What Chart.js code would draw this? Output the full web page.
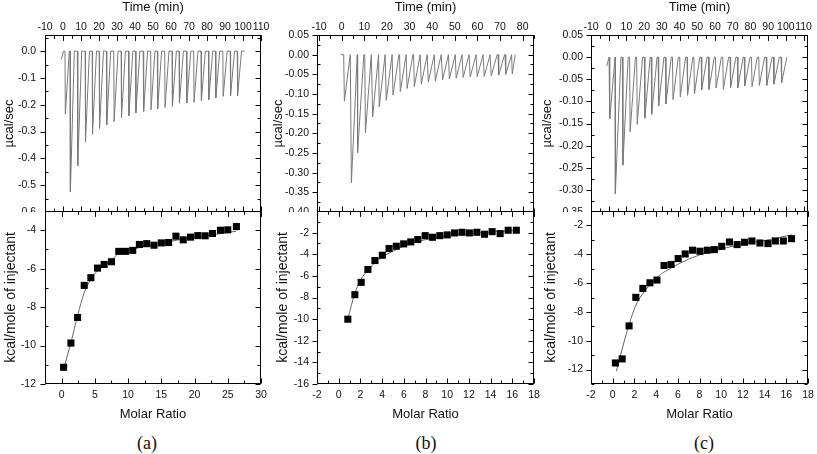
<!DOCTYPE html>
<html>
<head>
<meta charset="utf-8">
<script src="https://cdn.jsdelivr.net/npm/chart.js@4"></script>
<style>
  body { margin: 0; background: #fff; width: 817px; height: 454px; position: relative; overflow: hidden; }
  canvas { position: absolute; }
  .cap { position: absolute; font-family: "Liberation Serif", serif; font-size: 18px; color: #111; transform: translate(-50%, -50%); }
</style>
</head>
<body>
<div class="cap" style="left:147px; top:443px">(a)</div>
<div class="cap" style="left:426px; top:443px">(b)</div>
<div class="cap" style="left:704px; top:443px">(c)</div>
<script>
// ---------- (a) ----------
const timeTicksA = [-10, 0, 10, 20, 30, 40, 50, 60, 70, 80, 90, 100, 110];
const powerTicksA = [-0.6, -0.5, -0.4, -0.3, -0.2, -0.1, 0.0];
const startTimeA = [-0.9, 0.3];
const startPowerA = [-0.03, 0];
const injTimeA = [1.3, 4.1, 8.2, 12.5, 16.4, 20.3, 24.3, 28.4, 32.5, 36.6, 40.5, 44.8, 48.9,
                  52.6, 56.7, 60.8, 64.7, 68.8, 72.8, 76.9, 81.0, 84.9, 89.0, 93.1, 97.0];
const peakA = [-0.234, -0.525, -0.428, -0.338, -0.310, -0.288, -0.275, -0.263, -0.248, -0.241, -0.231, -0.225, -0.219,
               -0.215, -0.210, -0.206, -0.194, -0.194, -0.191, -0.184, -0.181, -0.175, -0.169, -0.166, -0.166];
const endTimeA = 101;
const ratioTicksA = [0, 5, 10, 15, 20, 25, 30];
const heatTicksA = [-12, -10, -8, -6, -4];
const ratioA = [0.3, 1.4, 2.4, 3.4, 4.4, 5.4, 6.4, 7.5, 8.6, 9.6, 10.7, 11.7, 12.8,
                13.9, 15.0, 16.1, 17.2, 18.3, 19.4, 20.5, 21.6, 22.7, 23.9, 25.0, 26.3];
const heatA = [-11.13, -9.87, -8.54, -6.87, -6.47, -5.97, -5.78, -5.64, -5.10, -5.10, -5.05, -4.74, -4.70,
               -4.78, -4.66, -4.64, -4.31, -4.50, -4.36, -4.28, -4.29, -4.17, -4.00, -3.98, -3.81];
const fitRatioA = [0.4, 1.4, 2.4, 3.4, 4.4, 5.4, 6.4, 7.5, 8.6, 10.6, 15, 20, 26.3];
const fitHeatA = [-11.1, -9.85, -8.45, -7.25, -6.55, -6.1, -5.8, -5.55, -5.2, -5.0, -4.65, -4.38, -4.05];

// ---------- (b) ----------
const timeTicksB = [-10, 0, 10, 20, 30, 40, 50, 60, 70, 80];
const powerTicksB = [-0.40, -0.35, -0.30, -0.25, -0.20, -0.15, -0.10, -0.05, 0.00, 0.05];
const startTimeB = [-0.3];
const startPowerB = [0];
const injTimeB = [1.2, 4.3, 7.2, 10.5, 13.7, 16.6, 19.7, 22.7, 25.9, 28.9, 32.1, 35.2, 38.3,
                  41.4, 44.6, 47.6, 50.6, 53.7, 56.8, 59.9, 63.0, 66.1, 69.4, 72.5, 75.4];
const peakB = [-0.118, -0.326, -0.249, -0.199, -0.158, -0.133, -0.116, -0.103, -0.094, -0.086, -0.081, -0.075, -0.070,
               -0.067, -0.064, -0.062, -0.060, -0.058, -0.057, -0.056, -0.055, -0.054, -0.052, -0.050, -0.049];
const endTimeB = 76.7;
const ratioTicksB = [-2, 0, 2, 4, 6, 8, 10, 12, 14, 16, 18];
const heatTicksB = [-16, -14, -12, -10, -8, -6, -4, -2];
const ratioB = [0.84, 1.49, 2.07, 2.69, 3.34, 4.02, 4.64, 5.31, 5.99, 6.64, 7.29, 7.97,
                8.64, 9.32, 10.0, 10.68, 11.36, 12.04, 12.73, 13.44, 14.14, 14.88, 15.62, 16.37];
const heatB = [-10.01, -7.74, -6.60, -5.41, -4.58, -4.09, -3.47, -3.26, -3.04, -2.86, -2.64, -2.28,
               -2.43, -2.28, -2.21, -2.03, -1.97, -2.03, -1.97, -2.15, -1.91, -2.09, -1.78, -1.78];
const fitRatioB = [0.84, 1.49, 2.07, 2.69, 3.34, 4.02, 4.64, 5.31, 6, 7, 8, 9, 10, 12, 14, 16.4];
const fitHeatB = [-10.0, -7.6, -6.3, -5.45, -4.8, -4.25, -3.9, -3.55, -3.25, -2.9, -2.65, -2.45, -2.3, -2.1, -1.95, -1.8];

// ---------- (c) ----------
const timeTicksC = [-10, 0, 10, 20, 30, 40, 50, 60, 70, 80, 90, 100, 110];
const powerTicksC = [-0.35, -0.30, -0.25, -0.20, -0.15, -0.10, -0.05, 0.00, 0.05];
const startTimeC = [-1.1, 0.2];
const startPowerC = [-0.02, 0];
const injTimeC = [0.7, 3.9, 8.0, 12.1, 16.1, 20.4, 24.3, 28.2, 32.3, 36.3, 40.4, 44.5, 48.4,
                  52.5, 56.6, 60.6, 64.7, 68.8, 72.9, 76.8, 80.9, 85.0, 89.2, 93.3, 97.6];
const peakC = [-0.140, -0.309, -0.244, -0.169, -0.152, -0.138, -0.129, -0.110, -0.106, -0.096, -0.090, -0.086, -0.083,
               -0.074, -0.073, -0.070, -0.073, -0.069, -0.069, -0.065, -0.067, -0.064, -0.064, -0.061, -0.058];
const endTimeC = 100.7;
const ratioTicksC = [-2, 0, 2, 4, 6, 8, 10, 12, 14, 16, 18];
const heatTicksC = [-12, -10, -8, -6, -4, -2];
const ratioC = [0.25, 0.87, 1.51, 2.13, 2.78, 3.43, 4.08, 4.73, 5.38, 6.03, 6.68, 7.36, 8.04,
                8.72, 9.37, 10.05, 10.76, 11.47, 12.15, 12.83, 13.57, 14.31, 14.99, 15.73, 16.48];
const heatC = [-11.54, -11.26, -8.97, -6.99, -6.37, -5.98, -5.79, -4.78, -4.71, -4.30, -3.98, -3.72, -3.79,
               -3.72, -3.68, -3.45, -3.15, -3.33, -3.17, -3.08, -3.22, -3.26, -3.08, -3.08, -2.92];
const fitRatioC = [0.34, 0.9, 1.5, 2.1, 2.8, 3.4, 4.1, 4.7, 5.4, 6, 7, 8, 9, 10, 11, 12, 14, 16.5];
const fitHeatC = [-12.1, -10.5, -8.9, -7.6, -6.7, -6.15, -5.6, -5.25, -4.95, -4.7, -4.35, -4.05, -3.85, -3.65, -3.45, -3.3, -3.05, -2.65];

const tickFont = { family: 'Liberation Sans', size: 10.5 };
const titleFont = { family: 'Liberation Sans', size: 13 };
const heatTitleFont = { family: 'Liberation Sans', size: 14 };

// raw heat trace: drift at start, then one sharp dip per injection, back to baseline
function trace(startT, startP, times, peaks, lead, tail, end) {
  const pts = startT.map((t, i) => ({ x: t, y: startP[i] }));
  times.forEach((t, i) => {
    const next = i + 1 < times.length ? times[i + 1] - lead : end;
    pts.push({ x: t - lead, y: 0 }, { x: t, y: peaks[i] }, { x: Math.min(t + tail, next), y: 0 });
  });
  pts.push({ x: end, y: 0 });
  return pts;
}

function pairs(xs, ys) {
  return xs.map((x, i) => ({ x: x, y: ys[i] }));
}

// one minor tick half way between the labelled ones
function minors(vals, min, max) {
  const step = vals[1] - vals[0], out = [];
  for (let v = vals[0] - step / 2; v <= max + 1e-9; v += step) {
    if (v >= min - 1e-9) out.push(v);
  }
  return out;
}

// Origin style box and tick marks as one extra line dataset,
// placed with the chart's own scales
function addFrame(chart, xMaj, yMaj) {
  const xs = chart.scales.x, ys = chart.scales.y, a = chart.chartArea;
  const L = Math.round(a.left) + 0.5, R = Math.round(a.right) - 0.5;
  const T = Math.round(a.top) + 0.5, B = Math.round(a.bottom) - 0.5;
  const pts = [];
  const seg = (x1, y1, x2, y2) => {
    pts.push({ x: xs.getValueForPixel(x1), y: ys.getValueForPixel(y1) },
             { x: xs.getValueForPixel(x2), y: ys.getValueForPixel(y2) },
             { x: xs.getValueForPixel(x2), y: null });
  };
  seg(L, T, R, T); seg(R, T, R, B); seg(R, B, L, B); seg(L, B, L, T);
  const xTick = (v, len) => {
    const p = Math.round(xs.getPixelForValue(v)) + 0.5;
    seg(p, T, p, T + len);
    seg(p, B, p, B - len);
  };
  const yTick = (v, out, len) => {
    const p = Math.round(ys.getPixelForValue(v)) + 0.5;
    seg(L, p, out ? L - len : L + len, p);
    seg(R, p, R - len, p);
  };
  xMaj.forEach(v => xTick(v, 5));
  minors(xMaj, xs.min, xs.max).forEach(v => xTick(v, 3));
  yMaj.forEach(v => yTick(v, true, 5));
  minors(yMaj, ys.min, ys.max).forEach(v => yTick(v, false, 3));
  chart.data.datasets.push({
    data: pts, xAxisID: 'x', yAxisID: 'y', borderColor: '#000', borderWidth: 1,
    pointRadius: 0, tension: 0, spanGaps: false, clip: false
  });
  chart.update();
}

function axis(position, min, max, ticks, digits, title, font, tickPad, titlePad, size) {
  const horizontal = position === 'top' || position === 'bottom';
  return {
    type: 'linear', position: position, min: min, max: max,
    grid: { display: false, drawTicks: false },
    border: { display: false },
    ticks: { font: tickFont, color: '#111', padding: tickPad, maxRotation: 0, autoSkip: false, callback: v => Number(v).toFixed(digits) },
    title: { display: true, text: title, font: font, color: '#111', padding: { top: titlePad, bottom: titlePad } },
    afterBuildTicks: s => { s.ticks = ticks.map(v => ({ value: v })); },
    afterFit: s => {
      if (horizontal) s.height = size; else s.width = size;
      s.paddingLeft = 0; s.paddingRight = 0; s.paddingTop = 0; s.paddingBottom = 0;
    }
  };
}

function makeChart(left, top, w, h, datasets, xAxis, yAxis, xTicks, yTicks, pad) {
  const c = document.createElement('canvas');
  c.width = w; c.height = h;
  c.style.left = left + 'px'; c.style.top = top + 'px';
  document.body.appendChild(c);
  const chart = new Chart(c, {
    type: 'line',
    data: { datasets: datasets },
    options: {
      responsive: false, animation: false, devicePixelRatio: 1, events: [],
      layout: { padding: pad, autoPadding: false },
      plugins: { legend: { display: false }, tooltip: { enabled: false } },
      scales: { x: xAxis, y: yAxis }
    }
  });
  addFrame(chart, xTicks, yTicks);
  return chart;
}

function rawSet(pts) {
  return { data: pts, xAxisID: 'x', yAxisID: 'y', borderColor: '#7a7a7a', borderWidth: 1, pointRadius: 0, tension: 0 };
}
function dotSet(pts) {
  return { data: pts, xAxisID: 'x', yAxisID: 'y', showLine: false, pointStyle: 'rect', pointRadius: 5, backgroundColor: '#000', borderWidth: 0 };
}
function fitSet(pts) {
  return { data: pts, xAxisID: 'x', yAxisID: 'y', borderColor: '#666', borderWidth: 1, pointRadius: 0, cubicInterpolationMode: 'monotone' };
}

// (a)
makeChart(0, 0, 272, 212,
  [rawSet(trace(startTimeA, startPowerA, injTimeA, peakA, 0.2, 2.2, endTimeA))],
  axis('top', -10, 110, timeTicksA, 0, 'Time (min)', titleFont, 2, 0, 35),
  axis('left', -0.6, 0.06, powerTicksA, 1, 'µcal/sec', titleFont, 9, 2, 45),
  timeTicksA, powerTicksA, { left: 0, top: 0, right: 11, bottom: 0 });
makeChart(0, 211, 272, 219,
  [dotSet(pairs(ratioA, heatA)), fitSet(pairs(fitRatioA, fitHeatA))],
  axis('bottom', -2.5, 30, ratioTicksA, 0, 'Molar Ratio', titleFont, 5, 7.5, 46),
  axis('left', -12, -3, heatTicksA, 0, 'kcal/mole of injectant', heatTitleFont, 9, 3, 45),
  ratioTicksA, heatTicksA, { left: 0, top: 0, right: 11, bottom: 0 });

// (b)
makeChart(266, 0, 280, 212,
  [rawSet(trace(startTimeB, startPowerB, injTimeB, peakB, 0.3, 2.6, endTimeB))],
  axis('top', -10.9, 85, timeTicksB, 0, 'Time (min)', titleFont, 2, 0, 35),
  axis('left', -0.40, 0.05, powerTicksB, 2, 'µcal/sec', titleFont, 8, 5, 51),
  timeTicksB, powerTicksB, { left: 0, top: 0, right: 12, bottom: 0 });
makeChart(266, 211, 280, 219,
  [dotSet(pairs(ratioB, heatB)), fitSet(pairs(fitRatioB, fitHeatB))],
  axis('bottom', -2, 18, ratioTicksB, 0, 'Molar Ratio', titleFont, 5, 7.5, 46),
  axis('left', -16, 0, heatTicksB, 0, 'kcal/mole of injectant', heatTitleFont, 8, 8.5, 51),
  ratioTicksB, heatTicksB, { left: 0, top: 0, right: 12, bottom: 0 });

// (c)
makeChart(537, 0, 280, 212,
  [rawSet(trace(startTimeC, startPowerC, injTimeC, peakC, 0.3, 3.0, endTimeC))],
  axis('top', -10, 112.5, timeTicksC, 0, 'Time (min)', titleFont, 2, 0, 35),
  axis('left', -0.35, 0.05, powerTicksC, 2, 'µcal/sec', titleFont, 8, 3, 54),
  timeTicksC, powerTicksC, { left: 0, top: 0, right: 9, bottom: 0 });
makeChart(537, 211, 280, 219,
  [dotSet(pairs(ratioC, heatC)), fitSet(pairs(fitRatioC, fitHeatC))],
  axis('bottom', -2, 18, ratioTicksC, 0, 'Molar Ratio', titleFont, 5, 7.5, 46),
  axis('left', -13, -1, heatTicksC, 0, 'kcal/mole of injectant', heatTitleFont, 8, 5.5, 54),
  ratioTicksC, heatTicksC, { left: 0, top: 0, right: 9, bottom: 0 });
</script>
</body>
</html>
